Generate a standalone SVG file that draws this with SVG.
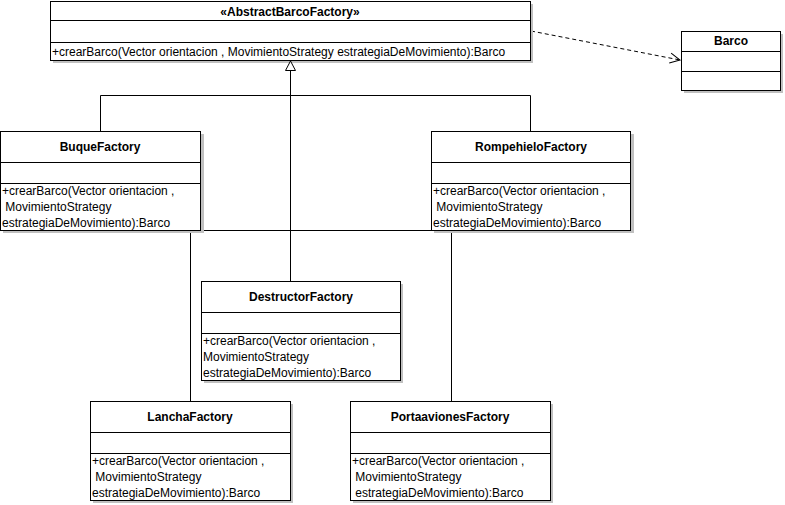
<svg xmlns="http://www.w3.org/2000/svg" width="785" height="505" viewBox="0 0 785 505">
<style>
.shadow{fill:#c0c0c0;stroke:none}
.box{fill:#ffffff;stroke:#000000;stroke-width:1}
.div{stroke:#000000;stroke-width:1}
.name{font-family:"Liberation Sans",Arial,sans-serif;font-size:12px;font-weight:bold;text-anchor:middle;fill:#000}
.op{font-family:"Liberation Sans",Arial,sans-serif;font-size:12px;fill:#000}
.edge{fill:none;stroke:#000000;stroke-width:1}
.dep{fill:none;stroke:#000000;stroke-width:1;stroke-dasharray:4,3}
</style>
<defs>
<marker id="open" markerWidth="12" markerHeight="12" refX="11" refY="6" orient="auto" markerUnits="userSpaceOnUse">
<path d="M1,1 L11,6 L1,11" fill="none" stroke="#000" stroke-width="1"/>
</marker>
</defs>
<rect width="785" height="505" fill="#ffffff"/>

<g id="connectors">
<path class="edge" d="M290.5,70 V281"/>
<path class="edge" d="M100.5,131 V95.5 H530.5 V131"/>
<path class="edge" d="M190.5,401 V230.5 H451.5 V401"/>
<path class="dep" d="M531,31 L680,60" marker-end="url(#open)"/>
</g>

<g id="AbstractBarcoFactory">
<rect class="shadow" x="53" y="4" width="480" height="59"/>
<rect class="box" x="50.5" y="1.5" width="480" height="59"/>
<line class="div" x1="50.5" y1="20.5" x2="530.5" y2="20.5"/>
<line class="div" x1="50.5" y1="42.5" x2="530.5" y2="42.5"/>
<text class="name" x="290" y="16">«AbstractBarcoFactory»</text>
<text class="op" x="52" y="56">+crearBarco(Vector orientacion , MovimientoStrategy estrategiaDeMovimiento):Barco</text>
</g>
<path class="box" d="M285.5,70.5 L290.5,61 L295.5,70.5 Z" id="generalization-head"/>

<g id="Barco">
<rect class="shadow" x="684" y="34" width="99" height="59"/>
<rect class="box" x="681.5" y="31.5" width="99" height="59"/>
<line class="div" x1="681.5" y1="51.5" x2="780.5" y2="51.5"/>
<line class="div" x1="681.5" y1="71.5" x2="780.5" y2="71.5"/>
<text class="name" x="731" y="45">Barco</text>
</g>

<g id="BuqueFactory">
<rect class="shadow" x="3" y="134" width="201" height="99"/>
<rect class="box" x="0.5" y="131.5" width="200" height="99"/>
<line class="div" x1="0.5" y1="162.5" x2="200.5" y2="162.5"/>
<line class="div" x1="0.5" y1="183.5" x2="200.5" y2="183.5"/>
<text class="name" x="100" y="151">BuqueFactory</text>
<text class="op" x="2" y="195">+crearBarco(Vector orientacion ,</text>
<text class="op" x="2" y="211" xml:space="preserve"> MovimientoStrategy</text>
<text class="op" x="2" y="227">estrategiaDeMovimiento):Barco</text>
</g>

<g id="RompehieloFactory">
<rect class="shadow" x="434" y="134" width="200" height="99"/>
<rect class="box" x="431.5" y="131.5" width="199" height="99"/>
<line class="div" x1="431.5" y1="162.5" x2="630.5" y2="162.5"/>
<line class="div" x1="431.5" y1="183.5" x2="630.5" y2="183.5"/>
<text class="name" x="531" y="151">RompehieloFactory</text>
<text class="op" x="433" y="195">+crearBarco(Vector orientacion ,</text>
<text class="op" x="433" y="211" xml:space="preserve"> MovimientoStrategy</text>
<text class="op" x="433" y="227">estrategiaDeMovimiento):Barco</text>
</g>

<g id="DestructorFactory">
<rect class="shadow" x="204" y="284" width="199" height="99"/>
<rect class="box" x="201.5" y="281.5" width="199" height="99"/>
<line class="div" x1="201.5" y1="312.5" x2="400.5" y2="312.5"/>
<line class="div" x1="201.5" y1="333.5" x2="400.5" y2="333.5"/>
<text class="name" x="301" y="301">DestructorFactory</text>
<text class="op" x="203" y="345">+crearBarco(Vector orientacion ,</text>
<text class="op" x="203" y="361">MovimientoStrategy</text>
<text class="op" x="203" y="377">estrategiaDeMovimiento):Barco</text>
</g>

<g id="LanchaFactory">
<rect class="shadow" x="93" y="404" width="200" height="99"/>
<rect class="box" x="90.5" y="401.5" width="200" height="99"/>
<line class="div" x1="90.5" y1="432.5" x2="290.5" y2="432.5"/>
<line class="div" x1="90.5" y1="453.5" x2="290.5" y2="453.5"/>
<text class="name" x="190" y="421">LanchaFactory</text>
<text class="op" x="92" y="465">+crearBarco(Vector orientacion ,</text>
<text class="op" x="92" y="481" xml:space="preserve"> MovimientoStrategy</text>
<text class="op" x="92" y="497">estrategiaDeMovimiento):Barco</text>
</g>

<g id="PortaavionesFactory">
<rect class="shadow" x="353" y="404" width="200" height="99"/>
<rect class="box" x="350.5" y="401.5" width="200" height="99"/>
<line class="div" x1="350.5" y1="432.5" x2="550.5" y2="432.5"/>
<line class="div" x1="350.5" y1="453.5" x2="550.5" y2="453.5"/>
<text class="name" x="450" y="421">PortaavionesFactory</text>
<text class="op" x="352" y="465">+crearBarco(Vector orientacion ,</text>
<text class="op" x="352" y="481" xml:space="preserve"> MovimientoStrategy</text>
<text class="op" x="352" y="497" xml:space="preserve"> estrategiaDeMovimiento):Barco</text>
</g>
</svg>
